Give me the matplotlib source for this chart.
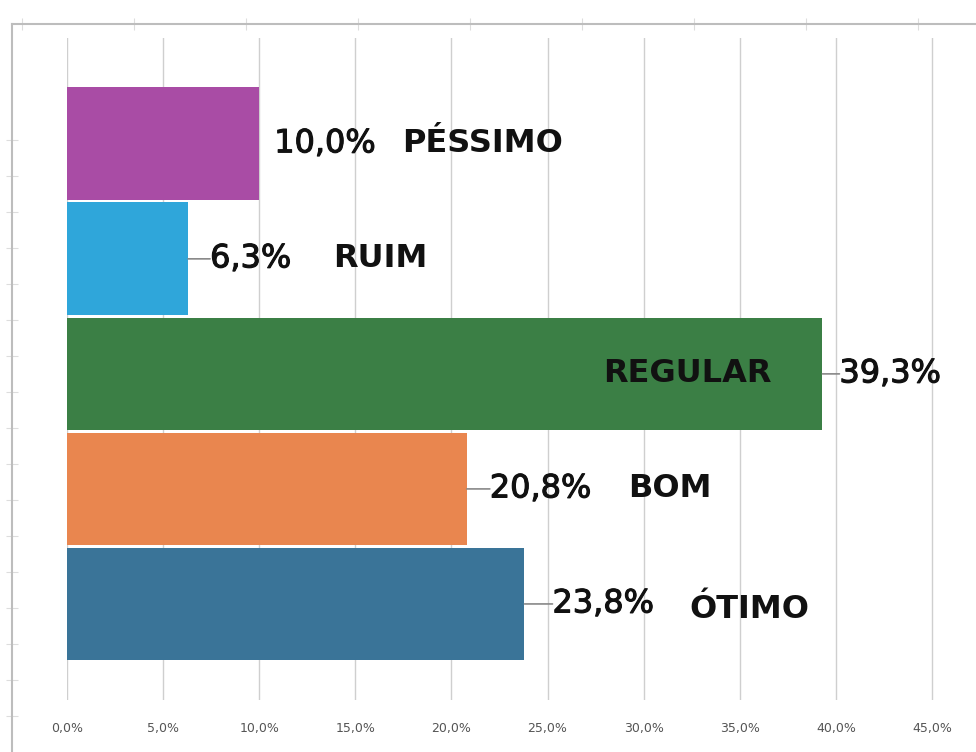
import numpy as np
import matplotlib
matplotlib.use("Agg")
import matplotlib.pyplot as plt
import matplotlib.patheffects as pe

# dados (de cima para baixo no gráfico)
categorias = ["PÉSSIMO", "RUIM", "REGULAR", "BOM", "ÓTIMO"]
valores = [10.0, 6.3, 39.3, 20.8, 23.8]
cores = ["#A94CA5", "#2FA6DA", "#3B7F45", "#E9864F", "#3A7498"]
xticks = [0, 5, 10, 15, 20, 25, 30, 35, 40, 45]

# deslocamentos dos rótulos (pixels a partir do fim da barra)
desloc_pct = [15, 22, 17, 23, 28]
desloc_cat = [143, 145, -51, 161, 165]
com_traco = [False, True, True, True, True]

W, H = 976, 752
fig = plt.figure(figsize=(W / 100, H / 100), dpi=100)

# moldura de fundo (eixo externo da captura)
ax0 = fig.add_axes([12 / W, 0, 1 - 12 / W, 1 - 24 / H])
ax0.set_xlim(0, 1)
ax0.set_ylim(0, 1)
for s in ["right", "bottom"]:
    ax0.spines[s].set_visible(False)
for s in ["top", "left"]:
    ax0.spines[s].set_color("#bdbdbd")
    ax0.spines[s].set_linewidth(1.5)
ax0.xaxis.tick_top()
ax0.set_xticks(np.arange(10, 964, 112) / 964)
ax0.set_yticks(1 - (np.arange(140, 752, 36) - 24) / 728)
ax0.tick_params(axis="both", direction="inout", length=8, color="#dddddd",
                labeltop=False, labelleft=False, labelbottom=False)

# eixo principal
x0, x1 = 67, 932
yt, yb = 38, 700
ax = fig.add_axes([x0 / W, 1 - yb / H, (x1 - x0 + 4) / W, (yb - yt) / H])
ax.patch.set_alpha(0)
ax.set_xlim(0, 45 * (x1 - x0 + 4) / (x1 - x0))
ax.set_ylim(-0.835, 4.92)

pos = np.arange(len(categorias))[::-1]
ax.barh(pos, valores, height=0.98, color=cores, zorder=2)

ax.set_xticks(xticks)
ax.set_xticklabels([f"{v:.1f}%".replace(".", ",") for v in xticks],
                   color="#555555", fontsize=9)
ax.set_yticks([])
ax.tick_params(axis="x", length=0, pad=16)
ax.grid(axis="x", color="#cfcfcf", linewidth=1, zorder=0)
for s in ax.spines.values():
    s.set_visible(False)

grosso = [pe.withStroke(linewidth=0.8, foreground="#111111")]
for i, (cat, val) in enumerate(zip(categorias, valores)):
    y = pos[i]
    if com_traco[i]:
        ax.annotate("", xy=(val, y), xytext=(desloc_pct[i], 0),
                    textcoords="offset pixels",
                    arrowprops=dict(arrowstyle="-", color="#888888", lw=1.2,
                                    shrinkA=0, shrinkB=0))
    ax.annotate(f"{val:.1f}%".replace(".", ","), xy=(val, y),
                xytext=(desloc_pct[i], 0), textcoords="offset pixels",
                ha="left", va="center", fontsize=23, color="#111111",
                path_effects=grosso)
    dy = -6 if cat == "ÓTIMO" else 0
    ax.annotate(cat, xy=(val, y), xytext=(desloc_cat[i], dy),
                textcoords="offset pixels",
                ha="right" if desloc_cat[i] < 0 else "left", va="center",
                fontsize=23, fontweight="bold", color="#111111")

fig.savefig("out.png", dpi=100)
